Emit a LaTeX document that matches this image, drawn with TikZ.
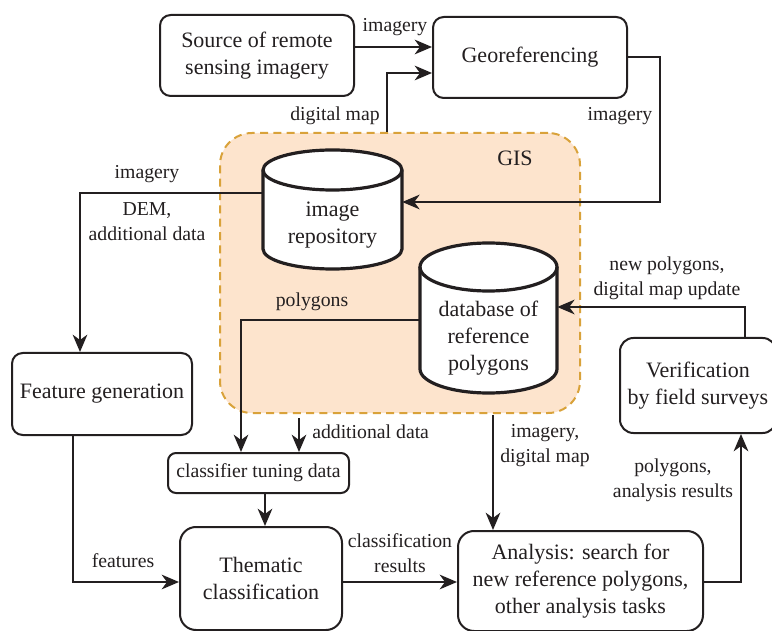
\documentclass[tikz,border=0pt]{standalone}
\usepackage{fontspec}
\setmainfont{Liberation Serif}
\usetikzlibrary{arrows.meta,calc}
\definecolor{ink}{HTML}{231F20}
\definecolor{gisfill}{HTML}{FDE4CD}
\definecolor{gisdraw}{HTML}{D9A23A}
\newcommand\mainsz{\fontsize{16.5}{20.25}\selectfont}
\newcommand\lblsz{\fontsize{14.8}{18.75}\selectfont}
\begin{document}
\begin{tikzpicture}[x=0.75pt,y=-0.75pt,
  box/.style={draw=ink, line width=1.5pt, rounded corners=8pt, fill=white, align=center, inner sep=0pt, font=\mainsz, text=ink},
  cyltext/.style={align=center, inner sep=0pt, font=\mainsz, text=ink},
  cyl/.style={draw=ink, line width=2.4pt, fill=white},
  lbl/.style={font=\lblsz, text=ink, align=center, inner sep=0pt},
  arr/.style={draw=ink, line width=1.5pt, -{Stealth[length=13pt,width=11pt,inset=4pt]}},
  conn/.style={draw=ink, line width=1.5pt}]
\useasboundingbox (0,0) rectangle (772,631);

% helper coordinates
\coordinate (y47) at (0,47);
\coordinate (y73) at (0,73);
\coordinate (y193) at (0,193);
\coordinate (y202) at (0,202);
\coordinate (y307) at (0,307);
\coordinate (y320) at (0,320);
\coordinate (y582) at (0,582);
\coordinate (c73) at (73,0);
\coordinate (c80) at (80,0);
\coordinate (c241) at (241,0);
\coordinate (c265) at (265,0);
\coordinate (c299) at (299,0);
\coordinate (c387) at (387,0);
\coordinate (c493) at (493,0);
\coordinate (c660) at (660,0);
\coordinate (c741) at (741,0);
\coordinate (c745) at (745,0);
\coordinate (addtop) at (299,418);
\coordinate (imgtop) at (493,415);

% GIS region
\node[draw=gisdraw, fill=gisfill, line width=1.5pt, dash pattern=on 6pt off 4pt, rounded corners=24pt,
      minimum width=270pt, minimum height=210pt, inner sep=0pt] (gis) at (400,273) {};
\node[font=\mainsz, text=ink, inner sep=0pt] (gislbl) at (515,158) {GIS};

% boxes
\node[box, minimum width=145.5pt, minimum height=60.75pt] (src) at (257,55.5) {Source of remote\\sensing imagery};
\node[box, minimum width=145.5pt, minimum height=60.75pt] (geo) at (530,57.5) {Georeferencing};
\node[box, minimum width=135pt, minimum height=61.5pt] (feat) at (102,394) {Feature generation};
\node[box, rounded corners=6pt, minimum width=135.75pt, minimum height=30pt, font=\lblsz] (clf) at (258.5,473) {classifier tuning data};
\node[box, rounded corners=12pt, minimum width=121.5pt, minimum height=77.25pt] (them) at (261,578.5) {Thematic\\classification};
\node[box, rounded corners=12pt, minimum width=183.75pt, minimum height=75pt] (ana) at (580.5,581) {Analysis: search for\\new reference polygons,\\other analysis tasks};
\node[box, rounded corners=10pt, minimum width=117pt, minimum height=71.25pt] (ver) at (698,385.5) {Verification\\by field surveys};

% cylinders
\draw[cyl] (263,170) -- (263,249) arc[start angle=180,end angle=360,x radius=52.125pt,y radius=15pt]
  -- (402,170) arc[start angle=0,end angle=180,x radius=52.125pt,y radius=15pt] -- cycle;
\draw[cyl, fill=none] (263,170) arc[start angle=180,end angle=360,x radius=52.125pt,y radius=15pt];
\node[cyltext, minimum width=104.25pt, minimum height=89.25pt] (repo) at (332.5,209.5) {};
\node[cyltext] (repotxt) at (332.5,225) {image\\repository};

\draw[cyl] (420,267) -- (420,369) arc[start angle=180,end angle=360,x radius=51.375pt,y radius=18pt]
  -- (557,267) arc[start angle=0,end angle=180,x radius=51.375pt,y radius=18pt] -- cycle;
\draw[cyl, fill=none] (420,267) arc[start angle=180,end angle=360,x radius=51.375pt,y radius=18pt];
\node[cyltext, minimum width=102.75pt, minimum height=112.5pt] (db) at (488.5,318) {};
\node[cyltext] (dbtxt) at (488.5,338) {database of\\reference\\polygons};

% connectors
\draw[arr] (src.east |- y47) -- (geo.west |- y47);
\node[lbl] (l1) at (395,27) {imagery};

\draw[arr] (gis.north -| c387) |- (geo.west |- y73);
\node[lbl] (l2) at (335,116) {digital map};

\draw[arr] (geo.east) -- (c660 |- geo.east) -- (c660 |- y202) -- (repo.east |- y202);
\node[lbl] (l3) at (620,116) {imagery};

\draw[arr] (repo.west |- y193) -| (feat.north -| c80);
\node[lbl] (l4) at (147,174) {imagery};
\node[lbl] (l5) at (147,222) {DEM,\\additional data};

\draw[arr] (db.west |- y320) -| (clf.north -| c241);
\node[lbl] (l6) at (312,302) {polygons};

\draw[arr] (addtop) -- (clf.north -| c299);
\node[lbl, anchor=west] (l7) at (312,432) {additional data};

\draw[arr] (clf.south -| c265) -- (them.north -| c265);

\draw[arr] (feat.south -| c73) |- (them.west |- y582);
\node[lbl] (l8) at (123,561) {features};

\draw[arr] (them.east |- y582) -- (ana.west |- y582);
\node[lbl] (l9) at (400,553) {classification\\results};

\draw[arr] (imgtop) -- (ana.north -| c493);
\node[lbl] (l10) at (545,446) {imagery,\\digital map};

\draw[arr] (ana.east |- y582) -| (ver.south -| c741);
\node[lbl] (l11) at (673,480) {polygons,\\analysis results};

\draw[arr] (ver.north -| c745) |- (db.east |- y307);
\node[lbl] (l12) at (667,278) {new polygons,\\digital map update};
\end{tikzpicture}
\end{document}
